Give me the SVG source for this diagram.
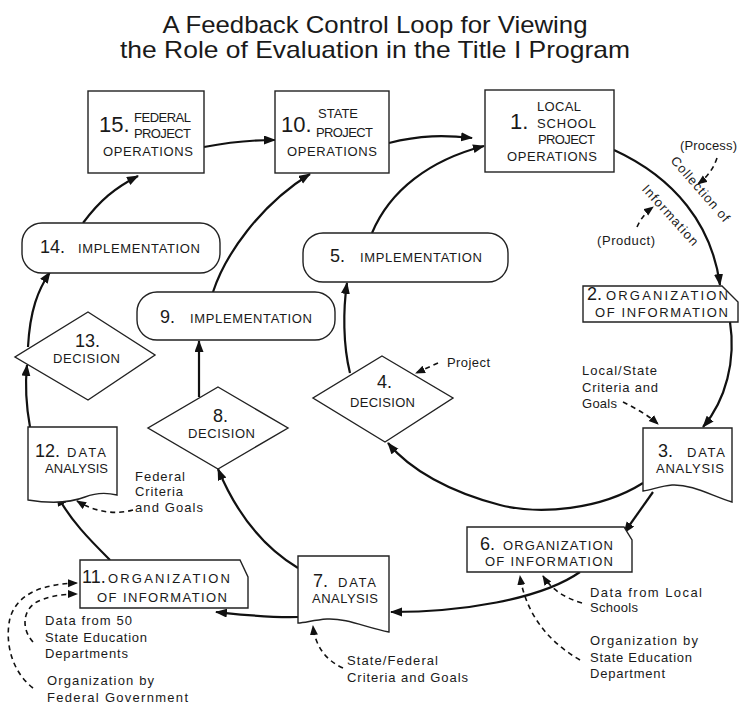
<svg xmlns="http://www.w3.org/2000/svg" width="739" height="706" viewBox="0 0 739 706">
<style>
  text { font-family: "Liberation Sans", Arial, sans-serif; fill: #1a1a1a; }
  .title { font-size: 24px; }
  .big { font-size: 22px; }
  .num { font-size: 18px; }
  .lbl { font-size: 13px; }
  .ann { font-size: 13px; }
  .box { fill: #fff; stroke: #222; stroke-width: 1.4; }
  .conn { fill: none; stroke: #111; stroke-width: 2.2; }
  .dash { fill: none; stroke: #111; stroke-width: 1.6; stroke-dasharray: 5 4; }
</style>
<defs>
  <marker id="ah" markerUnits="userSpaceOnUse" markerWidth="12" markerHeight="10" refX="11" refY="4.5" orient="auto">
    <path d="M0,0 L12,4.5 L0,9 Z" fill="#111"/>
  </marker>
  <marker id="ahd" markerUnits="userSpaceOnUse" markerWidth="10" markerHeight="9" refX="9" refY="4" orient="auto">
    <path d="M0,0 L10,4 L0,8 Z" fill="#111"/>
  </marker>
</defs>
<rect width="739" height="706" fill="#fff"/>

<g id="title">
  <text class="title" x="375" y="33" text-anchor="middle" textLength="425" lengthAdjust="spacingAndGlyphs">A Feedback Control Loop for Viewing</text>
  <text class="title" x="375" y="58" text-anchor="middle" textLength="510" lengthAdjust="spacingAndGlyphs">the Role of Evaluation in the Title I Program</text>
</g>

<g id="connectors">
  <path class="conn" marker-end="url(#ah)" d="M204,147 C230,142 250,140 275,140"/>
  <path class="conn" marker-end="url(#ah)" d="M389,143 C420,135 445,135 472,138"/>
  <path class="conn" marker-end="url(#ah)" d="M372,233 C390,190 430,160 484,146"/>
  <path class="conn" marker-end="url(#ah)" d="M614,150 C675,178 712,225 720,285"/>
  <path class="conn" marker-end="url(#ah)" d="M730,322 C736,360 726,400 703,427"/>
  <path class="conn" marker-end="url(#ah)" d="M643,483 C600,510 540,515 500,505 C450,492 410,470 388,443"/>
  <path class="conn" marker-end="url(#ah)" d="M653,492 L624,533"/>
  <path class="conn" marker-end="url(#ah)" d="M580,572 C540,600 460,612 391,612"/>
  <path class="conn" marker-end="url(#ah)" d="M298,568 C260,545 235,510 218,469"/>
  <path class="conn" marker-end="url(#ah)" d="M298,617 C270,618 245,615 216,612"/>
  <path class="conn" marker-end="url(#ah)" d="M110,560 C90,540 70,520 57,495"/>
  <path class="conn" marker-end="url(#ah)" d="M30,427 C26,405 25,385 27,365"/>
  <path class="conn" marker-end="url(#ah)" d="M28,347 C30,310 38,290 50,272"/>
  <path class="conn" marker-end="url(#ah)" d="M83,223 C100,200 115,188 138,176"/>
  <path class="conn" marker-end="url(#ah)" d="M213,292 C225,255 260,205 310,174"/>
  <path class="conn" marker-end="url(#ah)" d="M199,397 L199,341"/>
  <path class="conn" marker-end="url(#ah)" d="M350,373 C343,345 343,310 347,283"/>

  <path class="dash" marker-end="url(#ahd)" d="M717,158 C713,170 706,178 698,184"/>
  <path class="dash" marker-end="url(#ahd)" d="M637,227 C640,220 645,213 653,207"/>
  <path class="dash" marker-end="url(#ahd)" d="M623,402 C635,408 648,415 658,424"/>
  <path class="dash" marker-end="url(#ahd)" d="M438,363 L416,373"/>
  <path class="dash" marker-end="url(#ahd)" d="M133,510 C115,515 95,512 77,501"/>
  <path class="dash" marker-end="url(#ahd)" d="M343,668 C325,660 315,645 313,626"/>
  <path class="dash" marker-end="url(#ahd)" d="M582,603 C565,598 552,590 543,576"/>
  <path class="dash" marker-end="url(#ahd)" d="M580,660 C545,640 525,610 520,576"/>
  <path class="dash" marker-end="url(#ahd)" d="M33,642 C22,630 22,612 35,603 C45,597 60,594 77,594"/>
  <path class="dash" marker-end="url(#ahd)" d="M33,688 C10,670 5,640 10,618 C18,592 45,584 77,583"/>
</g>

<g id="n15">
  <rect class="box" x="88" y="91" width="116" height="82"/>
  <text class="big" x="99" y="132">15.</text>
  <text class="lbl" x="134" y="122" textLength="57">FEDERAL</text>
  <text class="lbl" x="134" y="138" textLength="57">PROJECT</text>
  <text class="lbl" x="103" y="156" textLength="90">OPERATIONS</text>
</g>
<g id="n10">
  <rect class="box" x="275" y="91" width="114" height="82"/>
  <text class="big" x="281" y="132">10.</text>
  <text class="lbl" x="318" y="118" textLength="40">STATE</text>
  <text class="lbl" x="316" y="137" textLength="57">PROJECT</text>
  <text class="lbl" x="287" y="156" textLength="90">OPERATIONS</text>
</g>
<g id="n1">
  <rect class="box" x="485" y="90" width="129" height="82"/>
  <text class="big" x="510" y="129">1.</text>
  <text class="lbl" x="537" y="111" textLength="44">LOCAL</text>
  <text class="lbl" x="537" y="128" textLength="59">SCHOOL</text>
  <text class="lbl" x="538" y="144" textLength="57">PROJECT</text>
  <text class="lbl" x="507" y="161" textLength="90">OPERATIONS</text>
</g>
<g id="n2">
  <path class="box" d="M583,286 H722 L738,302 V322 H583 Z"/>
  <text class="num" x="587" y="300">2.</text>
  <text class="lbl" x="606" y="300" textLength="122">ORGANIZATION</text>
  <text class="lbl" x="595" y="317" textLength="133">OF INFORMATION</text>
</g>
<g id="n3">
  <path class="box" d="M643,428 H732 V502 C712,496 692,484 672,485 C660,486 652,490 643,491 Z"/>
  <text class="num" x="658" y="457">3.</text>
  <text class="lbl" x="687" y="457" textLength="38">DATA</text>
  <text class="lbl" x="656" y="473" textLength="68">ANALYSIS</text>
</g>
<g id="n4">
  <polygon class="box" points="382,356 453,398 385,442 313,398"/>
  <text class="num" x="377" y="388">4.</text>
  <text class="lbl" x="350" y="407" textLength="65">DECISION</text>
</g>
<g id="n5">
  <rect class="box" x="303" y="233" width="205" height="49" rx="20"/>
  <text class="num" x="330" y="262">5.</text>
  <text class="lbl" x="360" y="262" textLength="122">IMPLEMENTATION</text>
</g>
<g id="n6">
  <path class="box" d="M467,527 H624 L632,540 V572 H467 Z"/>
  <text class="num" x="480" y="550">6.</text>
  <text class="lbl" x="503" y="550" textLength="110">ORGANIZATION</text>
  <text class="lbl" x="485" y="566" textLength="128">OF INFORMATION</text>
</g>
<g id="n7">
  <path class="box" d="M298,556 H389 V632 C367,628 347,618 327,619 C313,620 305,623 298,623 Z"/>
  <text class="num" x="313" y="587">7.</text>
  <text class="lbl" x="338" y="587" textLength="38">DATA</text>
  <text class="lbl" x="312" y="603" textLength="66">ANALYSIS</text>
</g>
<g id="n8">
  <polygon class="box" points="218,387 288,428 218,469 148,428"/>
  <text class="num" x="213" y="422">8.</text>
  <text class="lbl" x="188" y="438" textLength="67">DECISION</text>
</g>
<g id="n9">
  <rect class="box" x="137" y="292" width="198" height="48" rx="20"/>
  <text class="num" x="160" y="323">9.</text>
  <text class="lbl" x="190" y="323" textLength="122">IMPLEMENTATION</text>
</g>
<g id="n11">
  <path class="box" d="M80,560 H240 L248,577 V608 H80 Z"/>
  <text class="num" x="82" y="583">11.</text>
  <text class="lbl" x="108" y="583" textLength="122">ORGANIZATION</text>
  <text class="lbl" x="97" y="602" textLength="130">OF INFORMATION</text>
</g>
<g id="n12">
  <path class="box" d="M28,427 H117 V495 C105,492 95,493 85,497 C67,504 47,503 28,500 Z"/>
  <text class="num" x="35" y="457">12.</text>
  <text class="lbl" x="67" y="457" textLength="39">DATA</text>
  <text class="lbl" x="45" y="473" textLength="63">ANALYSIS</text>
</g>
<g id="n13">
  <polygon class="box" points="88,312 155,355 88,400 15,357"/>
  <text class="num" x="75" y="347">13.</text>
  <text class="lbl" x="53" y="363" textLength="67">DECISION</text>
</g>
<g id="n14">
  <rect class="box" x="22" y="223" width="198" height="50" rx="20"/>
  <text class="num" x="40" y="253">14.</text>
  <text class="lbl" x="78" y="253" textLength="122">IMPLEMENTATION</text>
</g>

<g id="annotations">
  <text class="ann" x="680" y="150" textLength="57">(Process)</text>
  <text class="ann" x="597" y="245" textLength="58">(Product)</text>
  <text class="ann" text-anchor="middle" transform="translate(697,192) rotate(49)" textLength="82">Collection of</text>
  <text class="ann" text-anchor="middle" transform="translate(667,218) rotate(48)" textLength="77">Information</text>
  <text class="ann" x="582" y="375" textLength="75">Local/State</text>
  <text class="ann" x="582" y="392" textLength="76">Criteria and</text>
  <text class="ann" x="582" y="408" textLength="35">Goals</text>
  <text class="ann" x="447" y="367" textLength="43">Project</text>
  <text class="ann" x="135" y="481" textLength="50">Federal</text>
  <text class="ann" x="135" y="496" textLength="48">Criteria</text>
  <text class="ann" x="135" y="512" textLength="68">and Goals</text>
  <text class="ann" x="347" y="665" textLength="91">State/Federal</text>
  <text class="ann" x="347" y="682" textLength="121">Criteria and Goals</text>
  <text class="ann" x="590" y="597" textLength="112">Data from Local</text>
  <text class="ann" x="590" y="612" textLength="48">Schools</text>
  <text class="ann" x="590" y="645" textLength="108">Organization by</text>
  <text class="ann" x="590" y="662" textLength="102">State Education</text>
  <text class="ann" x="590" y="678" textLength="75">Department</text>
  <text class="ann" x="45" y="625" textLength="87">Data from 50</text>
  <text class="ann" x="45" y="642" textLength="102">State Education</text>
  <text class="ann" x="45" y="658" textLength="83">Departments</text>
  <text class="ann" x="47" y="685" textLength="107">Organization by</text>
  <text class="ann" x="47" y="702" textLength="141">Federal Government</text>
</g>
</svg>
